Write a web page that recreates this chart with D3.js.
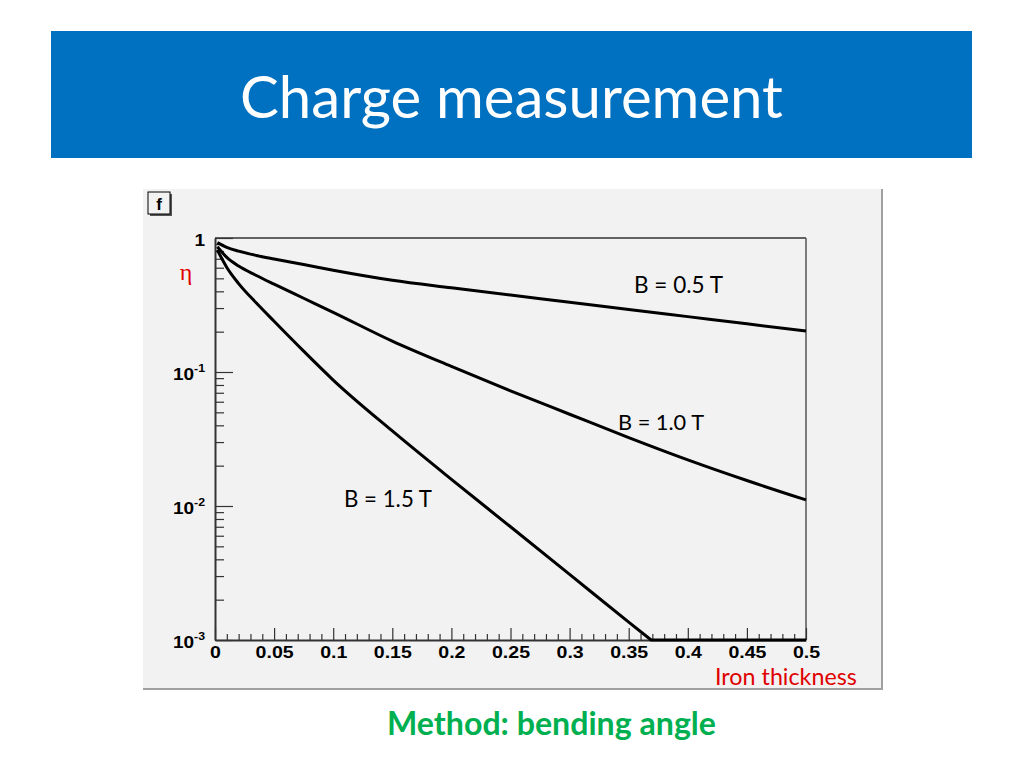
<!DOCTYPE html>
<html>
<head>
<meta charset="utf-8">
<script src="https://cdnjs.cloudflare.com/ajax/libs/d3/7.8.5/d3.min.js"></script>
<style>
  html, body { margin: 0; padding: 0; background: #ffffff; }
  svg { display: block; }
</style>
</head>
<body>
<svg id="chart" width="1024" height="768"></svg>
<script>
// ---------------- DATA ----------------
const thickness = [0.002, 0.01, 0.02, 0.035, 0.05, 0.075, 0.1, 0.15, 0.2, 0.25, 0.3, 0.35, 0.4, 0.45, 0.5];
const etaB05 = [0.923, 0.851, 0.798, 0.741, 0.697, 0.634, 0.575, 0.484, 0.425, 0.375, 0.332, 0.293, 0.259, 0.229, 0.202];
const etaB10 = [0.861, 0.716, 0.617, 0.525, 0.452, 0.355, 0.279, 0.170, 0.110, 0.0724, 0.0484, 0.0324, 0.0221, 0.0155, 0.0111];
const thicknessB15 = [0.002, 0.01, 0.02, 0.035, 0.05, 0.075, 0.1, 0.15, 0.2, 0.25, 0.3, 0.35, 0.369, 0.4, 0.45, 0.5];
const etaB15 = [0.813, 0.603, 0.457, 0.327, 0.239, 0.143, 0.0871, 0.0363, 0.0158, 0.0070, 0.00309, 0.00136, 0.001, 0.001, 0.001, 0.001];
const seriesNames = ["B = 0.5 T", "B = 1.0 T", "B = 1.5 T"];
const xMajorTicks = [0, 0.05, 0.1, 0.15, 0.2, 0.25, 0.3, 0.35, 0.4, 0.45, 0.5];
const xTickLabels = ["0", "0.05", "0.1", "0.15", "0.2", "0.25", "0.3", "0.35", "0.4", "0.45", "0.5"];
const yMajorTicks = [0.001, 0.01, 0.1, 1];
const yTickBase = ["10", "10", "10", "1"];
const yTickExp = ["-3", "-2", "-1", ""];
const titleText = "Charge measurement";
const subtitleText = "Method: bending angle";
const xAxisTitle = "Iron thickness";
const yAxisTitle = "\u03B7";
const boxLabel = "f";

// ---------------- LAYOUT ----------------
const svg = d3.select("#chart");
const calibriLike = "Lato, 'Open Sans', 'Noto Sans', sans-serif";
const arialLike = "'Liberation Sans', Arial, sans-serif";

function fitWidth(sel, target) {
  const node = sel.node();
  const fs = parseFloat(sel.attr("font-size"));
  const w = node.getComputedTextLength();
  if (w > 0) sel.attr("font-size", (fs * target / w).toFixed(2));
}

// Title bar
svg.append("rect").attr("x", 51).attr("y", 31).attr("width", 921).attr("height", 127).attr("fill", "#0070C0");
const t = svg.append("text").attr("x", 511.5).attr("y", 118).attr("text-anchor", "middle")
  .attr("font-family", calibriLike).attr("font-size", 56).attr("fill", "#ffffff").text(titleText);
fitWidth(t, 543);

// Canvas panel
svg.append("rect").attr("x", 143).attr("y", 189).attr("width", 740).attr("height", 501).attr("fill", "#f2f2f2");
svg.append("line").attr("x1", 882).attr("x2", 882).attr("y1", 189).attr("y2", 690).attr("stroke", "#a0a0a0").attr("stroke-width", 2);
svg.append("line").attr("x1", 143).attr("x2", 883).attr("y1", 689).attr("y2", 689).attr("stroke", "#a0a0a0").attr("stroke-width", 2);

// "f" box
svg.append("rect").attr("x", 150).attr("y", 194).attr("width", 22).attr("height", 22).attr("fill", "#555");
svg.append("rect").attr("x", 148).attr("y", 192).attr("width", 22).attr("height", 22).attr("fill", "#f2f2f2").attr("stroke", "#000").attr("stroke-width", 1);
svg.append("text").attr("x", 159).attr("y", 210).attr("text-anchor", "middle")
  .attr("font-family", arialLike).attr("font-weight", "bold").attr("font-size", 17).text(boxLabel);

// Scales
const x = d3.scaleLinear().domain([0, 0.5]).range([215, 806]);
const y = d3.scaleLog().domain([0.001, 1]).range([640, 238]).clamp(true);

// Frame top/right
svg.append("line").attr("x1", x(0)).attr("x2", x(0.5)).attr("y1", y(1)).attr("y2", y(1)).attr("stroke", "#333").attr("stroke-width", 1.5);
svg.append("line").attr("x1", x(0.5)).attr("x2", x(0.5)).attr("y1", y(1)).attr("y2", y(0.001)).attr("stroke", "#555").attr("stroke-width", 1.5);

// X axis minor ticks
const xMinor = d3.range(0, 51).map(i => i / 100).filter(v => Math.round(v * 100) % 5 !== 0);
const xMinorAxis = d3.axisBottom(x).tickValues(xMinor).tickSizeInner(-6).tickSizeOuter(0).tickFormat("");
svg.append("g").attr("transform", `translate(0,${y(0.001)})`).call(xMinorAxis)
  .call(g => g.select(".domain").remove())
  .call(g => g.selectAll("line").attr("stroke", "#333").attr("stroke-width", 1.2));

// X axis major
const xAxis = d3.axisBottom(x).tickValues(xMajorTicks).tickSizeInner(-12).tickSizeOuter(0)
  .tickPadding(6).tickFormat((d, i) => xTickLabels[i]);
svg.append("g").attr("transform", `translate(0,${y(0.001)})`).call(xAxis)
  .call(g => g.select(".domain").attr("stroke", "#333").attr("stroke-width", 2))
  .call(g => g.selectAll("line").attr("stroke", "#333").attr("stroke-width", 1.2))
  .call(g => g.selectAll("text").attr("font-family", arialLike).attr("font-weight", "bold")
    .attr("font-size", 17).attr("fill", "#000").attr("dy", "0.71em")
    .attr("transform", "scale(1.15,1)"));

// Y axis minor
const yMinor = [];
[0.001, 0.01, 0.1].forEach(b => { for (let k = 2; k <= 9; k++) yMinor.push(b * k); });
const yMinorAxis = d3.axisLeft(y).tickValues(yMinor).tickSizeInner(-9).tickSizeOuter(0).tickFormat("");
svg.append("g").attr("transform", `translate(${x(0)},0)`).call(yMinorAxis)
  .call(g => g.select(".domain").remove())
  .call(g => g.selectAll("line").attr("stroke", "#333").attr("stroke-width", 1.2));

// Y axis major
const yAxis = d3.axisLeft(y).tickValues(yMajorTicks).tickSizeInner(-18).tickSizeOuter(0)
  .tickPadding(10).tickFormat("");
const yg = svg.append("g").attr("transform", `translate(${x(0)},0)`).call(yAxis)
  .call(g => g.select(".domain").attr("stroke", "#333").attr("stroke-width", 2))
  .call(g => g.selectAll("line").attr("stroke", "#333").attr("stroke-width", 1.2));
yg.selectAll(".tick text").each(function(d) {
  const txt = d3.select(this).attr("font-family", arialLike).attr("font-weight", "bold")
    .attr("fill", "#000").attr("font-size", 17).attr("dy", "0.45em")
    .attr("x", -10 / 1.12).attr("transform", "scale(1.12,1)");
  const idx = yMajorTicks.indexOf(d);
  txt.append("tspan").text(yTickBase[idx]);
  if (yTickExp[idx]) txt.append("tspan").attr("font-size", 11).attr("dy", "-0.75em").text(yTickExp[idx]);
});

// Curves (values at the axis minimum are drawn along the axis, as the original does)
svg.append("clipPath").attr("id", "plotclip").append("rect")
  .attr("x", x(0)).attr("y", y(1) - 2).attr("width", x(0.5) - x(0) + 2).attr("height", y(0.001) - y(1) + 4);
const smooth = d3.line().x(d => x(d[0])).y(d => y(d[1])).curve(d3.curveMonotoneX);
const straight = d3.line().x(d => x(d[0])).y(d => y(d[1]));
const minVal = y.domain()[0];
function pathFor(pts) {
  const firstMin = pts.findIndex(p => p[1] <= minVal);
  if (firstMin < 0) return smooth(pts);
  return smooth(pts.slice(0, firstMin + 1)) + straight(pts.slice(firstMin)).replace(/^M/, "L");
}
const series = [
  d3.zip(thickness, etaB05),
  d3.zip(thickness, etaB10),
  d3.zip(thicknessB15, etaB15)
];
svg.append("g").attr("clip-path", "url(#plotclip)").selectAll("path").data(series).join("path")
  .attr("d", pathFor).attr("fill", "none").attr("stroke", "#000").attr("stroke-width", 3)
  .attr("stroke-linejoin", "round");

// Curve labels
const labelPos = [[634, 293, 89], [618, 430, 86], [344, 507, 88]];
seriesNames.forEach((name, i) => {
  const s = svg.append("text").attr("x", labelPos[i][0]).attr("y", labelPos[i][1])
    .attr("font-family", calibriLike).attr("font-size", 24).attr("fill", "#000").text(name);
  fitWidth(s, labelPos[i][2]);
});

// Axis titles
const xt = svg.append("text").attr("x", 715).attr("y", 685).attr("font-family", calibriLike)
  .attr("font-size", 22).attr("fill", "#e00000").text(xAxisTitle);
fitWidth(xt, 142);
svg.append("text").attr("x", 186).attr("y", 280).attr("text-anchor", "middle")
  .attr("font-family", "'Liberation Serif', 'DejaVu Serif', serif").attr("font-size", 24)
  .attr("fill", "#e00000").text(yAxisTitle);

// Bottom subtitle
const st = svg.append("text").attr("x", 551.5).attr("y", 735).attr("text-anchor", "middle")
  .attr("font-family", calibriLike).attr("font-weight", "bold").attr("font-size", 28)
  .attr("fill", "#00B050").text(subtitleText);
fitWidth(st, 329);
</script>
</body>
</html>
